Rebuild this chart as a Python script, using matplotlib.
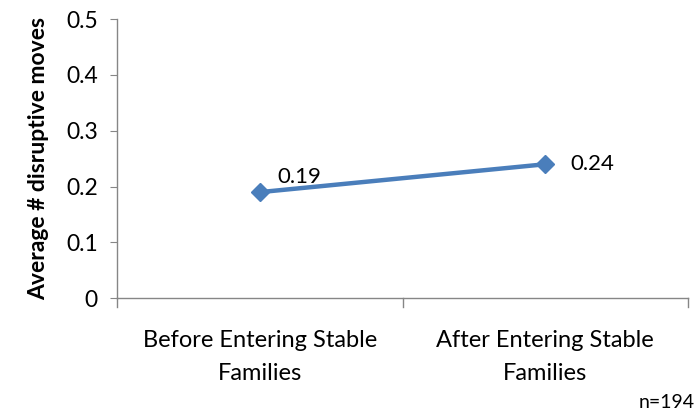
import matplotlib
matplotlib.use('Agg')
import matplotlib.pyplot as plt

# Data
categories = ['Before Entering Stable\nFamilies', 'After Entering Stable\nFamilies']
values = [0.19, 0.24]
yticks = [0, 0.1, 0.2, 0.3, 0.4, 0.5]

plt.rcParams['font.family'] = ['Lato', 'DejaVu Sans']

fig = plt.figure(figsize=(6.97, 4.17), dpi=100)
ax = fig.add_axes([0.168, 0.285, 0.819, 0.669])

xs = list(range(len(categories)))
ax.plot(xs, values, color='#4a7ebb', linewidth=3.2, marker='D', markersize=9,
        markerfacecolor='#4a7ebb', markeredgecolor='#4a7ebb')

# Data labels
ax.annotate('0.19', (xs[0], values[0]), xytext=(13, 11), textcoords='offset points',
            fontsize=16, va='center', ha='left')
ax.annotate('0.24', (xs[1], values[1]), xytext=(18, 0), textcoords='offset points',
            fontsize=16, va='center', ha='left')

ax.set_xlim(-0.5, 1.5)
ax.set_ylim(0, 0.5)
ax.set_yticks(yticks)
ax.set_yticklabels(['0', '0.1', '0.2', '0.3', '0.4', '0.5'])
ax.set_xticks(xs)
ax.set_xticklabels(categories, fontsize=17, linespacing=1.7)
ax.tick_params(axis='x', length=0, pad=23)
ax.tick_params(axis='y', labelsize=16.5, length=5, color='#868686', pad=9)

# category boundary ticks on x axis
for b in [-0.5, 0.5, 1.5]:
    ax.plot([b, b], [0, -0.015], color='#868686', linewidth=1, clip_on=False)

for s in ['top', 'right']:
    ax.spines[s].set_visible(False)
for s in ['left', 'bottom']:
    ax.spines[s].set_color('#868686')
    ax.spines[s].set_linewidth(1)

ax.set_ylabel('Average # disruptive moves', fontsize=16.5, fontweight='bold', labelpad=12)

fig.text(0.997, 0.015, 'n=194', ha='right', va='bottom', fontsize=14)

plt.savefig('out.png', dpi=100)
plt.close()
